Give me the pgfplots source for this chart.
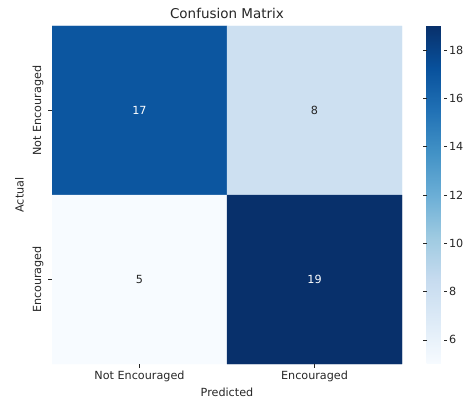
\documentclass[border=0pt]{standalone}
\usepackage{fontspec}
\setmainfont{DejaVu Sans}
\usepackage{pgfplots}
\pgfplotsset{compat=1.18}
\usepackage{pgfplotstable}

\definecolor{txt}{HTML}{262626}
\newcommand{\lblfont}{\fontsize{11.2}{13}\selectfont}

% confusion matrix: column x = predicted, row y = actual
\pgfplotstableread{
x y c
0 0 17
1 0 8
0 1 5
1 1 19
}\cmdata

\pgfplotstableread{
x y c
0 0 17
1 1 19
}\darkcells

\pgfplotstableread{
x y c
1 0 8
0 1 5
}\lightcells

\begin{document}
\begin{tikzpicture}
\useasboundingbox (0,0) rectangle (463pt,398pt);
\begin{axis}[
  at={(52pt,34pt)}, anchor=south west,
  scale only axis, width=350pt, height=338pt,
  xmin=-0.5, xmax=1.5, ymin=-0.5, ymax=1.5,
  y dir=reverse,
  enlargelimits=false,
  axis on top,
  axis line style={draw=none},
  xtick={0,1}, ytick={0,1},
  xticklabels={Not Encouraged, Encouraged},
  yticklabels={Not Encouraged, Encouraged},
  yticklabel style={rotate=90, anchor=south, font=\lblfont, text=txt},
  yticklabel shift=1.5pt,
  xticklabel style={font=\lblfont, text=txt},
  tick align=outside, major tick length=3.5pt,
  xtick pos=bottom, ytick pos=left,
  tick style={txt, line width=0.6pt},
  xlabel={Predicted}, ylabel={Actual},
  xlabel style={yshift=1pt},
  ylabel style={yshift=2pt},
  label style={font=\lblfont, text=txt},
  title={Confusion Matrix},
  title style={font=\fontsize{13.5}{15}\selectfont, text=txt, yshift=-2pt},
  colormap={blues}{rgb255=(247,251,255) rgb255=(222,235,247) rgb255=(198,219,239)
    rgb255=(158,202,225) rgb255=(107,174,214) rgb255=(66,146,198)
    rgb255=(33,113,181) rgb255=(8,81,156) rgb255=(8,48,107)},
  point meta min=5, point meta max=19,
  colorbar,
  colorbar style={
    at={(parent axis.north east)}, anchor=north west, xshift=16pt,
    scale only axis, width=17pt, height=338pt,
    axis line style={draw=none},
    ytick={6,8,...,18},
    yticklabel pos=right,
    tick align=outside, major tick length=3.5pt,
    tick style={txt, line width=0.6pt},
    yticklabel style={font=\lblfont, text=txt, xshift=-1.5pt,
      /pgf/number format/assume math mode=true},
  },
]
\addplot[matrix plot*, mesh/cols=2, point meta=explicit]
  table[x=x, y=y, meta=c] {\cmdata};
\addplot[only marks, mark=none, point meta=explicit,
  nodes near coords, nodes near coords align=center,
  every node near coord/.append style={font=\lblfont, text=white,
    /pgf/number format/assume math mode=true}]
  table[x=x, y=y, meta=c] {\darkcells};
\addplot[only marks, mark=none, point meta=explicit,
  nodes near coords, nodes near coords align=center,
  every node near coord/.append style={font=\lblfont, text=txt,
    /pgf/number format/assume math mode=true}]
  table[x=x, y=y, meta=c] {\lightcells};
\end{axis}
\end{tikzpicture}
\end{document}
